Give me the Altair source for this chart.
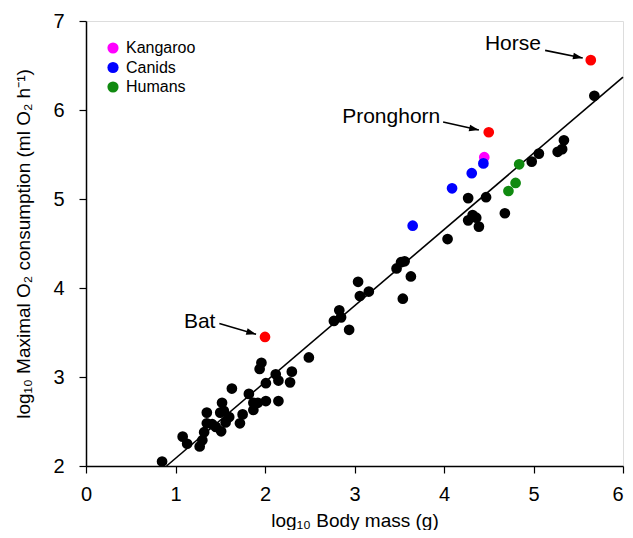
import math
import altair as alt
import pandas as pd

FONT = "Liberation Sans"

# ---- data (log10 units) ----
black_x = [0.85, 1.08, 1.13, 1.27, 1.30, 1.32, 1.35, 1.35, 1.41, 1.45, 1.51, 1.50,
           1.52, 1.54, 1.56, 1.60, 1.63, 1.72, 1.75, 1.82, 1.87, 1.87, 1.92, 1.96,
           1.94, 2.01, 2.01, 2.12, 2.15, 2.15, 2.28, 2.30, 2.49, 2.77, 2.83, 2.85,
           2.94, 3.04, 3.06, 3.16, 3.47, 3.52, 3.56, 3.63, 3.54, 4.04, 4.27, 4.27,
           4.32, 4.36, 4.39, 4.47, 4.68, 4.98, 5.06, 5.27, 5.32, 5.34, 5.68]
black_y = [2.05, 2.33, 2.25, 2.22, 2.29, 2.38, 2.48, 2.60, 2.47, 2.44, 2.39, 2.60,
           2.71, 2.62, 2.49, 2.55, 2.87, 2.48, 2.58, 2.81, 2.71, 2.63, 2.71, 3.16,
           3.09, 2.93, 2.73, 3.03, 2.96, 2.73, 2.94, 3.06, 3.22, 3.63, 3.75, 3.67,
           3.53, 4.07, 3.91, 3.96, 4.22, 4.29, 4.30, 4.13, 3.88, 4.55, 5.01, 4.76,
           4.82, 4.79, 4.69, 5.02, 4.84, 5.42, 5.51, 5.53, 5.56, 5.66, 6.16]

red_x = [5.64, 4.50, 2.00]
red_y = [6.56, 5.75, 3.45]

group_names = ["Kangaroo", "Canids", "Canids", "Canids", "Canids", "Humans", "Humans", "Humans"]
group_x = [4.45, 4.44, 4.31, 4.09, 3.65, 4.84, 4.80, 4.72]
group_y = [5.47, 5.40, 5.29, 5.12, 4.70, 5.39, 5.18, 5.09]
legend_order = ["Kangaroo", "Canids", "Humans"]
legend_colors = ["#ff00ff", "#0000ff", "#108a10"]

fit_x = [0.90, 6.0]
fit_y = [2.0, 6.37]

label_text = ["Horse", "Pronghorn", "Bat"]
label_x = [4.77, 3.41, 1.27]
label_y = [6.74, 5.92, 3.62]
arrow_x1 = [5.13, 3.99, 1.49]
arrow_y1 = [6.67, 5.865, 3.60]
arrow_x2 = [5.55, 4.39, 1.90]
arrow_y2 = [6.585, 5.775, 3.48]

W, H = 537, 445
XMIN, XMAX, YMIN, YMAX = 0, 6, 2, 7
px_x = W / (XMAX - XMIN)
px_y = H / (YMAX - YMIN)
arrow_angle = [math.degrees(math.atan2(-(b2 - b1) * px_y, (a2 - a1) * px_x))
               for a1, b1, a2, b2 in zip(arrow_x1, arrow_y1, arrow_x2, arrow_y2)]

black_df = pd.DataFrame({"x": black_x, "y": black_y})
red_df = pd.DataFrame({"x": red_x, "y": red_y})
group_df = pd.DataFrame({"x": group_x, "y": group_y, "g": group_names})
fit_df = pd.DataFrame({"x": fit_x, "y": fit_y})
ann_df = pd.DataFrame({"t": label_text, "lx": label_x, "ly": label_y,
                       "x1": arrow_x1, "y1": arrow_y1, "x2": arrow_x2, "y2": arrow_y2,
                       "ang": arrow_angle})

xscale = alt.Scale(domain=[XMIN, XMAX], nice=False, zero=False)
yscale = alt.Scale(domain=[YMIN, YMAX], nice=False, zero=False)

xaxis = alt.Axis(title="log₁₀ Body mass (g)", values=[0, 1, 2, 3, 4, 5, 6], format="d",
                 grid=False, tickSize=7, labelPadding=11, labelFontSize=20, titleFontSize=19,
                 titlePadding=7, domainColor="black", tickColor="black",
                 labelColor="black", titleColor="black", labelFont=FONT, titleFont=FONT,
                 titleFontWeight="normal", domainWidth=1.5, tickWidth=1.2, labelFlush=False,
                 labelAlign=alt.condition("datum.value == 6", alt.value("right"), alt.value("center")))
yaxis = alt.Axis(title="log₁₀ Maximal O₂ consumption (ml O₂ h⁻¹)", values=[2, 3, 4, 5, 6, 7],
                 format="d", grid=False, tickSize=7, labelPadding=15, labelFontSize=20,
                 titleFontSize=19, titlePadding=19, domainColor="black", tickColor="black",
                 labelColor="black", titleColor="black", labelFont=FONT, titleFont=FONT,
                 titleFontWeight="normal", domainWidth=1.5, tickWidth=1.2, labelFlush=False)

X = alt.X("x:Q", scale=xscale, axis=xaxis)
Y = alt.Y("y:Q", scale=yscale, axis=yaxis)

fit = alt.Chart(fit_df).mark_line(color="black", strokeWidth=1.6).encode(x=X, y=Y)

black = alt.Chart(black_df).mark_circle(color="black", opacity=1, size=115).encode(x=X, y=Y)
red = alt.Chart(red_df).mark_circle(color="#ff0000", opacity=1, size=115).encode(x=X, y=Y)
groups = alt.Chart(group_df).mark_circle(opacity=1, size=115).encode(
    x=X, y=Y,
    color=alt.Color("g:N", scale=alt.Scale(domain=legend_order, range=legend_colors),
                    sort=legend_order,
                    legend=alt.Legend(title=None, orient="none", legendX=19, legendY=19,
                                      symbolType="circle", symbolSize=125, labelFontSize=16,
                                      labelFont=FONT, labelColor="black", labelOffset=5,
                                      rowPadding=3.5, padding=0, symbolStrokeWidth=0)),
)

labels = alt.Chart(ann_df).mark_text(font=FONT, fontSize=21, color="black",
                                     align="center", baseline="middle").encode(
    x=alt.X("lx:Q", scale=xscale), y=alt.Y("ly:Q", scale=yscale), text="t:N")
shafts = alt.Chart(ann_df).mark_rule(color="black", strokeWidth=1.6).encode(
    x=alt.X("x1:Q", scale=xscale), y=alt.Y("y1:Q", scale=yscale),
    x2="x2:Q", y2="y2:Q")
heads = alt.Chart(ann_df).mark_point(shape="M0,0 L-1,-0.34 L-1,0.34 Z", filled=True,
                                     color="black", opacity=1, size=380).encode(
    x=alt.X("x2:Q", scale=xscale), y=alt.Y("y2:Q", scale=yscale), angle=alt.Angle("ang:Q", scale=None))

chart = alt.layer(fit, black, red, groups, shafts, heads, labels).properties(
    width=W, height=H,
    autosize=alt.AutoSizeParams(type="none"),
    padding={"left": 78, "top": 13, "right": 2, "bottom": 64},
).configure_view(stroke="black", strokeWidth=1.5).configure(background="white")

chart.save("out.html", embed_options={"renderer": "svg", "actions": False})
